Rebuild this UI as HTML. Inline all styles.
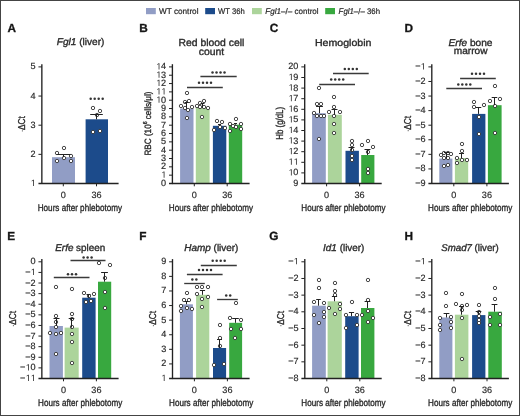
<!DOCTYPE html><html><head><meta charset="utf-8"><style>html,body{margin:0;padding:0;background:#fff;overflow:hidden}svg{display:block;will-change:transform;text-rendering:geometricPrecision}text{stroke:#2b2b2b;stroke-width:0.35px}text.n{stroke:#2b2b2b;stroke-width:0.18px}</style></head><body>
<svg width="520" height="416" viewBox="0 0 520 416" font-family='"Liberation Sans", sans-serif'>
<rect x="0" y="0" width="520" height="416" fill="#fff"/>
<rect x="146.00" y="8.00" width="9.80" height="6.20" fill="#919dc5"/>
<text x="159" y="13.8" font-size="8.2" fill="#222" text-anchor="start" textLength="39.5" lengthAdjust="spacingAndGlyphs" class="n"><tspan>WT control</tspan></text>
<rect x="205.20" y="8.00" width="9.80" height="6.20" fill="#1c4b8b"/>
<text x="218" y="13.8" font-size="8.2" fill="#222" text-anchor="start" textLength="26.8" lengthAdjust="spacingAndGlyphs" class="n"><tspan>WT 36h</tspan></text>
<rect x="252.00" y="8.00" width="9.80" height="6.20" fill="#acd49b"/>
<text x="265.3" y="13.8" font-size="8.2" fill="#222" text-anchor="start" textLength="53.3" lengthAdjust="spacingAndGlyphs" class="n"><tspan font-style="italic">Fgl1</tspan><tspan>–/– control</tspan></text>
<rect x="325.20" y="8.00" width="9.80" height="6.20" fill="#38a83f"/>
<text x="338.6" y="13.8" font-size="8.2" fill="#222" text-anchor="start" textLength="41.4" lengthAdjust="spacingAndGlyphs" class="n"><tspan font-style="italic">Fgl1</tspan><tspan>–/– 36h</tspan></text>
<text x="7.50" y="32.40" font-size="11.8" text-anchor="start" fill="#111" font-weight="bold">A</text>
<text x="139.30" y="32.40" font-size="11.8" text-anchor="start" fill="#111" font-weight="bold">B</text>
<text x="269.70" y="32.40" font-size="11.8" text-anchor="start" fill="#111" font-weight="bold">C</text>
<text x="404.40" y="32.40" font-size="11.8" text-anchor="start" fill="#111" font-weight="bold">D</text>
<text x="7.30" y="240.00" font-size="11.8" text-anchor="start" fill="#111" font-weight="bold">E</text>
<text x="139.20" y="240.00" font-size="11.8" text-anchor="start" fill="#111" font-weight="bold">F</text>
<text x="269.30" y="240.00" font-size="11.8" text-anchor="start" fill="#111" font-weight="bold">G</text>
<text x="404.50" y="240.00" font-size="11.8" text-anchor="start" fill="#111" font-weight="bold">H</text>
<rect x="52.00" y="157.20" width="23.00" height="26.30" fill="#919dc5"/>
<rect x="85.60" y="119.30" width="22.40" height="64.20" fill="#1c4b8b"/>
<circle cx="64" cy="148" r="1.7" fill="#fff" stroke="#303030" stroke-width="0.88"/>
<circle cx="57" cy="153" r="1.7" fill="#fff" stroke="#303030" stroke-width="0.88"/>
<circle cx="71" cy="156" r="1.7" fill="#fff" stroke="#303030" stroke-width="0.88"/>
<circle cx="64" cy="158" r="1.7" fill="#fff" stroke="#303030" stroke-width="0.88"/>
<circle cx="57" cy="161" r="1.7" fill="#fff" stroke="#303030" stroke-width="0.88"/>
<circle cx="71" cy="161" r="1.7" fill="#fff" stroke="#303030" stroke-width="0.88"/>
<circle cx="93" cy="108" r="1.7" fill="#fff" stroke="#303030" stroke-width="0.88"/>
<circle cx="100" cy="111" r="1.7" fill="#fff" stroke="#303030" stroke-width="0.88"/>
<circle cx="97" cy="115" r="1.7" fill="#fff" stroke="#303030" stroke-width="0.88"/>
<circle cx="93" cy="132" r="1.7" fill="#fff" stroke="#303030" stroke-width="0.88"/>
<circle cx="100" cy="131" r="1.7" fill="#fff" stroke="#303030" stroke-width="0.88"/>
<line x1="63.50" y1="157.20" x2="63.50" y2="154.50" stroke="#222" stroke-width="1.0"/>
<line x1="56.50" y1="154.50" x2="70.50" y2="154.50" stroke="#222" stroke-width="1.0"/>
<line x1="96.50" y1="119.30" x2="96.50" y2="114.50" stroke="#222" stroke-width="1.0"/>
<line x1="90.20" y1="114.50" x2="102.80" y2="114.50" stroke="#222" stroke-width="1.0"/>
<line x1="41.85" y1="64.20" x2="41.85" y2="184.10" stroke="#222" stroke-width="1.35"/>
<line x1="38.45" y1="183.50" x2="118.60" y2="183.50" stroke="#222" stroke-width="1.35"/>
<text x="35.55" y="186.00" font-size="9.1" text-anchor="end" fill="#2b2b2b" class="n"> </text>
<path d="M595,0H776V1409H610L277,1180V1010L595,1237Z" fill="#2b2b2b" transform="translate(30.49,186.00) scale(0.00444,-0.00444)"/>
<line x1="38.45" y1="154.35" x2="41.85" y2="154.35" stroke="#222" stroke-width="1.0"/>
<text x="35.55" y="156.85" font-size="9.1" text-anchor="end" fill="#2b2b2b" class="n">2</text>
<line x1="38.45" y1="125.20" x2="41.85" y2="125.20" stroke="#222" stroke-width="1.0"/>
<text x="35.55" y="127.70" font-size="9.1" text-anchor="end" fill="#2b2b2b" class="n">3</text>
<line x1="38.45" y1="96.05" x2="41.85" y2="96.05" stroke="#222" stroke-width="1.0"/>
<text x="35.55" y="98.55" font-size="9.1" text-anchor="end" fill="#2b2b2b" class="n">4</text>
<line x1="38.45" y1="66.90" x2="41.85" y2="66.90" stroke="#222" stroke-width="1.0"/>
<text x="35.55" y="69.40" font-size="9.1" text-anchor="end" fill="#2b2b2b" class="n">5</text>
<line x1="63.30" y1="183.50" x2="63.30" y2="186.30" stroke="#222" stroke-width="1.0"/>
<text x="63.30" y="197.60" font-size="9.1" text-anchor="middle" fill="#2b2b2b" class="n">0</text>
<line x1="96.50" y1="183.50" x2="96.50" y2="186.30" stroke="#222" stroke-width="1.0"/>
<text x="96.50" y="197.60" font-size="9.1" text-anchor="middle" fill="#2b2b2b" class="n">36</text>
<rect x="180.10" y="108.50" width="13.40" height="75.00" fill="#919dc5"/>
<rect x="195.80" y="107.70" width="13.80" height="75.80" fill="#acd49b"/>
<rect x="212.90" y="125.80" width="13.40" height="57.70" fill="#1c4b8b"/>
<rect x="228.80" y="124.70" width="13.40" height="58.80" fill="#38a83f"/>
<circle cx="187" cy="93" r="1.7" fill="#fff" stroke="#303030" stroke-width="0.88"/>
<circle cx="185" cy="102" r="1.7" fill="#fff" stroke="#303030" stroke-width="0.88"/>
<circle cx="189" cy="101" r="1.7" fill="#fff" stroke="#303030" stroke-width="0.88"/>
<circle cx="181" cy="106" r="1.7" fill="#fff" stroke="#303030" stroke-width="0.88"/>
<circle cx="192" cy="107" r="1.7" fill="#fff" stroke="#303030" stroke-width="0.88"/>
<circle cx="185" cy="108" r="1.7" fill="#fff" stroke="#303030" stroke-width="0.88"/>
<circle cx="188" cy="110" r="1.7" fill="#fff" stroke="#303030" stroke-width="0.88"/>
<circle cx="187" cy="118" r="1.7" fill="#fff" stroke="#303030" stroke-width="0.88"/>
<circle cx="204" cy="101" r="1.7" fill="#fff" stroke="#303030" stroke-width="0.88"/>
<circle cx="200" cy="103" r="1.7" fill="#fff" stroke="#303030" stroke-width="0.88"/>
<circle cx="197" cy="106" r="1.7" fill="#fff" stroke="#303030" stroke-width="0.88"/>
<circle cx="200" cy="107" r="1.7" fill="#fff" stroke="#303030" stroke-width="0.88"/>
<circle cx="204" cy="107" r="1.7" fill="#fff" stroke="#303030" stroke-width="0.88"/>
<circle cx="208" cy="108" r="1.7" fill="#fff" stroke="#303030" stroke-width="0.88"/>
<circle cx="202" cy="117" r="1.7" fill="#fff" stroke="#303030" stroke-width="0.88"/>
<circle cx="217" cy="121" r="1.7" fill="#fff" stroke="#303030" stroke-width="0.88"/>
<circle cx="222" cy="122" r="1.7" fill="#fff" stroke="#303030" stroke-width="0.88"/>
<circle cx="220" cy="127" r="1.7" fill="#fff" stroke="#303030" stroke-width="0.88"/>
<circle cx="225" cy="128" r="1.7" fill="#fff" stroke="#303030" stroke-width="0.88"/>
<circle cx="214" cy="130" r="1.7" fill="#fff" stroke="#303030" stroke-width="0.88"/>
<circle cx="236" cy="119" r="1.7" fill="#fff" stroke="#303030" stroke-width="0.88"/>
<circle cx="230" cy="124" r="1.7" fill="#fff" stroke="#303030" stroke-width="0.88"/>
<circle cx="233" cy="126" r="1.7" fill="#fff" stroke="#303030" stroke-width="0.88"/>
<circle cx="236" cy="127" r="1.7" fill="#fff" stroke="#303030" stroke-width="0.88"/>
<circle cx="241" cy="124" r="1.7" fill="#fff" stroke="#303030" stroke-width="0.88"/>
<circle cx="241" cy="129" r="1.7" fill="#fff" stroke="#303030" stroke-width="0.88"/>
<circle cx="230" cy="131" r="1.7" fill="#fff" stroke="#303030" stroke-width="0.88"/>
<line x1="186.50" y1="108.50" x2="186.50" y2="102.50" stroke="#222" stroke-width="1.0"/>
<line x1="184.50" y1="102.50" x2="188.50" y2="102.50" stroke="#222" stroke-width="1.0"/>
<line x1="202.50" y1="107.70" x2="202.50" y2="103.50" stroke="#222" stroke-width="1.0"/>
<line x1="200.50" y1="103.50" x2="204.50" y2="103.50" stroke="#222" stroke-width="1.0"/>
<line x1="219.50" y1="125.80" x2="219.50" y2="124.50" stroke="#222" stroke-width="1.0"/>
<line x1="218.00" y1="124.50" x2="221.00" y2="124.50" stroke="#222" stroke-width="1.0"/>
<line x1="235.50" y1="124.70" x2="235.50" y2="123.50" stroke="#222" stroke-width="1.0"/>
<line x1="234.00" y1="123.50" x2="237.00" y2="123.50" stroke="#222" stroke-width="1.0"/>
<line x1="172.40" y1="64.20" x2="172.40" y2="184.10" stroke="#222" stroke-width="1.35"/>
<line x1="169.00" y1="183.50" x2="249.60" y2="183.50" stroke="#222" stroke-width="1.35"/>
<text x="166.10" y="186.00" font-size="9.1" text-anchor="end" fill="#2b2b2b" class="n">0</text>
<line x1="169.00" y1="175.17" x2="172.40" y2="175.17" stroke="#222" stroke-width="1.0"/>
<text x="166.10" y="177.67" font-size="9.1" text-anchor="end" fill="#2b2b2b" class="n"> </text>
<path d="M595,0H776V1409H610L277,1180V1010L595,1237Z" fill="#2b2b2b" transform="translate(161.04,177.67) scale(0.00444,-0.00444)"/>
<line x1="169.00" y1="166.84" x2="172.40" y2="166.84" stroke="#222" stroke-width="1.0"/>
<text x="166.10" y="169.34" font-size="9.1" text-anchor="end" fill="#2b2b2b" class="n">2</text>
<line x1="169.00" y1="158.51" x2="172.40" y2="158.51" stroke="#222" stroke-width="1.0"/>
<text x="166.10" y="161.01" font-size="9.1" text-anchor="end" fill="#2b2b2b" class="n">3</text>
<line x1="169.00" y1="150.19" x2="172.40" y2="150.19" stroke="#222" stroke-width="1.0"/>
<text x="166.10" y="152.69" font-size="9.1" text-anchor="end" fill="#2b2b2b" class="n">4</text>
<line x1="169.00" y1="141.86" x2="172.40" y2="141.86" stroke="#222" stroke-width="1.0"/>
<text x="166.10" y="144.36" font-size="9.1" text-anchor="end" fill="#2b2b2b" class="n">5</text>
<line x1="169.00" y1="133.53" x2="172.40" y2="133.53" stroke="#222" stroke-width="1.0"/>
<text x="166.10" y="136.03" font-size="9.1" text-anchor="end" fill="#2b2b2b" class="n">6</text>
<line x1="169.00" y1="125.20" x2="172.40" y2="125.20" stroke="#222" stroke-width="1.0"/>
<text x="166.10" y="127.70" font-size="9.1" text-anchor="end" fill="#2b2b2b" class="n">7</text>
<line x1="169.00" y1="116.87" x2="172.40" y2="116.87" stroke="#222" stroke-width="1.0"/>
<text x="166.10" y="119.37" font-size="9.1" text-anchor="end" fill="#2b2b2b" class="n">8</text>
<line x1="169.00" y1="108.54" x2="172.40" y2="108.54" stroke="#222" stroke-width="1.0"/>
<text x="166.10" y="111.04" font-size="9.1" text-anchor="end" fill="#2b2b2b" class="n">9</text>
<line x1="169.00" y1="100.21" x2="172.40" y2="100.21" stroke="#222" stroke-width="1.0"/>
<text x="166.10" y="102.71" font-size="9.1" text-anchor="end" fill="#2b2b2b" class="n"> 0</text>
<path d="M595,0H776V1409H610L277,1180V1010L595,1237Z" fill="#2b2b2b" transform="translate(155.98,102.71) scale(0.00444,-0.00444)"/>
<line x1="169.00" y1="91.89" x2="172.40" y2="91.89" stroke="#222" stroke-width="1.0"/>
<text x="166.10" y="94.39" font-size="9.1" text-anchor="end" fill="#2b2b2b" class="n">  </text>
<path d="M595,0H776V1409H610L277,1180V1010L595,1237Z" fill="#2b2b2b" transform="translate(155.98,94.39) scale(0.00444,-0.00444)"/>
<path d="M595,0H776V1409H610L277,1180V1010L595,1237Z" fill="#2b2b2b" transform="translate(161.04,94.39) scale(0.00444,-0.00444)"/>
<line x1="169.00" y1="83.56" x2="172.40" y2="83.56" stroke="#222" stroke-width="1.0"/>
<text x="166.10" y="86.06" font-size="9.1" text-anchor="end" fill="#2b2b2b" class="n"> 2</text>
<path d="M595,0H776V1409H610L277,1180V1010L595,1237Z" fill="#2b2b2b" transform="translate(155.98,86.06) scale(0.00444,-0.00444)"/>
<line x1="169.00" y1="75.23" x2="172.40" y2="75.23" stroke="#222" stroke-width="1.0"/>
<text x="166.10" y="77.73" font-size="9.1" text-anchor="end" fill="#2b2b2b" class="n"> 3</text>
<path d="M595,0H776V1409H610L277,1180V1010L595,1237Z" fill="#2b2b2b" transform="translate(155.98,77.73) scale(0.00444,-0.00444)"/>
<line x1="169.00" y1="66.90" x2="172.40" y2="66.90" stroke="#222" stroke-width="1.0"/>
<text x="166.10" y="69.40" font-size="9.1" text-anchor="end" fill="#2b2b2b" class="n"> 4</text>
<path d="M595,0H776V1409H610L277,1180V1010L595,1237Z" fill="#2b2b2b" transform="translate(155.98,69.40) scale(0.00444,-0.00444)"/>
<line x1="194.30" y1="183.50" x2="194.30" y2="186.30" stroke="#222" stroke-width="1.0"/>
<text x="194.30" y="197.60" font-size="9.1" text-anchor="middle" fill="#2b2b2b" class="n">0</text>
<line x1="227.20" y1="183.50" x2="227.20" y2="186.30" stroke="#222" stroke-width="1.0"/>
<text x="227.20" y="197.60" font-size="9.1" text-anchor="middle" fill="#2b2b2b" class="n">36</text>
<line x1="187.00" y1="87.50" x2="222.80" y2="87.50" stroke="#3a3a3a" stroke-width="1.35"/>
<circle cx="199.00" cy="82.7" r="1.25" fill="#333"/>
<circle cx="203.00" cy="82.7" r="1.25" fill="#333"/>
<circle cx="207.00" cy="82.7" r="1.25" fill="#333"/>
<circle cx="211.00" cy="82.7" r="1.25" fill="#333"/>
<line x1="200.40" y1="76.50" x2="236.70" y2="76.50" stroke="#3a3a3a" stroke-width="1.35"/>
<circle cx="212.50" cy="72.5" r="1.25" fill="#333"/>
<circle cx="216.50" cy="72.5" r="1.25" fill="#333"/>
<circle cx="220.50" cy="72.5" r="1.25" fill="#333"/>
<circle cx="224.50" cy="72.5" r="1.25" fill="#333"/>
<rect x="312.10" y="113.20" width="13.70" height="70.30" fill="#919dc5"/>
<rect x="327.90" y="114.80" width="13.90" height="68.70" fill="#acd49b"/>
<rect x="345.50" y="150.80" width="13.40" height="32.70" fill="#1c4b8b"/>
<rect x="361.20" y="155.00" width="13.20" height="28.50" fill="#38a83f"/>
<circle cx="319" cy="88" r="1.7" fill="#fff" stroke="#303030" stroke-width="0.88"/>
<circle cx="317" cy="104" r="1.7" fill="#fff" stroke="#303030" stroke-width="0.88"/>
<circle cx="321" cy="104" r="1.7" fill="#fff" stroke="#303030" stroke-width="0.88"/>
<circle cx="314" cy="113" r="1.7" fill="#fff" stroke="#303030" stroke-width="0.88"/>
<circle cx="317" cy="116" r="1.7" fill="#fff" stroke="#303030" stroke-width="0.88"/>
<circle cx="321" cy="116" r="1.7" fill="#fff" stroke="#303030" stroke-width="0.88"/>
<circle cx="324" cy="116" r="1.7" fill="#fff" stroke="#303030" stroke-width="0.88"/>
<circle cx="319" cy="139" r="1.7" fill="#fff" stroke="#303030" stroke-width="0.88"/>
<circle cx="334" cy="97" r="1.7" fill="#fff" stroke="#303030" stroke-width="0.88"/>
<circle cx="334" cy="107" r="1.7" fill="#fff" stroke="#303030" stroke-width="0.88"/>
<circle cx="329" cy="112" r="1.7" fill="#fff" stroke="#303030" stroke-width="0.88"/>
<circle cx="340" cy="112" r="1.7" fill="#fff" stroke="#303030" stroke-width="0.88"/>
<circle cx="334" cy="116" r="1.7" fill="#fff" stroke="#303030" stroke-width="0.88"/>
<circle cx="334" cy="124" r="1.7" fill="#fff" stroke="#303030" stroke-width="0.88"/>
<circle cx="334" cy="133" r="1.7" fill="#fff" stroke="#303030" stroke-width="0.88"/>
<circle cx="352" cy="141" r="1.7" fill="#fff" stroke="#303030" stroke-width="0.88"/>
<circle cx="352" cy="145" r="1.7" fill="#fff" stroke="#303030" stroke-width="0.88"/>
<circle cx="352" cy="150" r="1.7" fill="#fff" stroke="#303030" stroke-width="0.88"/>
<circle cx="352" cy="156" r="1.7" fill="#fff" stroke="#303030" stroke-width="0.88"/>
<circle cx="352" cy="160" r="1.7" fill="#fff" stroke="#303030" stroke-width="0.88"/>
<circle cx="368" cy="141" r="1.7" fill="#fff" stroke="#303030" stroke-width="0.88"/>
<circle cx="362" cy="145" r="1.7" fill="#fff" stroke="#303030" stroke-width="0.88"/>
<circle cx="373" cy="147" r="1.7" fill="#fff" stroke="#303030" stroke-width="0.88"/>
<circle cx="368" cy="152" r="1.7" fill="#fff" stroke="#303030" stroke-width="0.88"/>
<circle cx="368" cy="169" r="1.7" fill="#fff" stroke="#303030" stroke-width="0.88"/>
<circle cx="368" cy="173" r="1.7" fill="#fff" stroke="#303030" stroke-width="0.88"/>
<line x1="319.50" y1="113.20" x2="319.50" y2="106.50" stroke="#222" stroke-width="1.0"/>
<line x1="316.10" y1="106.50" x2="322.90" y2="106.50" stroke="#222" stroke-width="1.0"/>
<line x1="334.50" y1="114.80" x2="334.50" y2="109.50" stroke="#222" stroke-width="1.0"/>
<line x1="331.50" y1="109.50" x2="337.50" y2="109.50" stroke="#222" stroke-width="1.0"/>
<line x1="351.50" y1="150.80" x2="351.50" y2="147.50" stroke="#222" stroke-width="1.0"/>
<line x1="348.50" y1="147.50" x2="354.50" y2="147.50" stroke="#222" stroke-width="1.0"/>
<line x1="367.50" y1="155.00" x2="367.50" y2="149.50" stroke="#222" stroke-width="1.0"/>
<line x1="364.50" y1="149.50" x2="370.50" y2="149.50" stroke="#222" stroke-width="1.0"/>
<line x1="304.70" y1="64.20" x2="304.70" y2="184.10" stroke="#222" stroke-width="1.35"/>
<line x1="301.30" y1="183.50" x2="381.70" y2="183.50" stroke="#222" stroke-width="1.35"/>
<text x="298.40" y="186.00" font-size="9.1" text-anchor="end" fill="#2b2b2b" class="n">9</text>
<line x1="301.30" y1="172.90" x2="304.70" y2="172.90" stroke="#222" stroke-width="1.0"/>
<text x="298.40" y="175.40" font-size="9.1" text-anchor="end" fill="#2b2b2b" class="n"> 0</text>
<path d="M595,0H776V1409H610L277,1180V1010L595,1237Z" fill="#2b2b2b" transform="translate(288.28,175.40) scale(0.00444,-0.00444)"/>
<line x1="301.30" y1="162.30" x2="304.70" y2="162.30" stroke="#222" stroke-width="1.0"/>
<text x="298.40" y="164.80" font-size="9.1" text-anchor="end" fill="#2b2b2b" class="n">  </text>
<path d="M595,0H776V1409H610L277,1180V1010L595,1237Z" fill="#2b2b2b" transform="translate(288.28,164.80) scale(0.00444,-0.00444)"/>
<path d="M595,0H776V1409H610L277,1180V1010L595,1237Z" fill="#2b2b2b" transform="translate(293.34,164.80) scale(0.00444,-0.00444)"/>
<line x1="301.30" y1="151.70" x2="304.70" y2="151.70" stroke="#222" stroke-width="1.0"/>
<text x="298.40" y="154.20" font-size="9.1" text-anchor="end" fill="#2b2b2b" class="n"> 2</text>
<path d="M595,0H776V1409H610L277,1180V1010L595,1237Z" fill="#2b2b2b" transform="translate(288.28,154.20) scale(0.00444,-0.00444)"/>
<line x1="301.30" y1="141.10" x2="304.70" y2="141.10" stroke="#222" stroke-width="1.0"/>
<text x="298.40" y="143.60" font-size="9.1" text-anchor="end" fill="#2b2b2b" class="n"> 3</text>
<path d="M595,0H776V1409H610L277,1180V1010L595,1237Z" fill="#2b2b2b" transform="translate(288.28,143.60) scale(0.00444,-0.00444)"/>
<line x1="301.30" y1="130.50" x2="304.70" y2="130.50" stroke="#222" stroke-width="1.0"/>
<text x="298.40" y="133.00" font-size="9.1" text-anchor="end" fill="#2b2b2b" class="n"> 4</text>
<path d="M595,0H776V1409H610L277,1180V1010L595,1237Z" fill="#2b2b2b" transform="translate(288.28,133.00) scale(0.00444,-0.00444)"/>
<line x1="301.30" y1="119.90" x2="304.70" y2="119.90" stroke="#222" stroke-width="1.0"/>
<text x="298.40" y="122.40" font-size="9.1" text-anchor="end" fill="#2b2b2b" class="n"> 5</text>
<path d="M595,0H776V1409H610L277,1180V1010L595,1237Z" fill="#2b2b2b" transform="translate(288.28,122.40) scale(0.00444,-0.00444)"/>
<line x1="301.30" y1="109.30" x2="304.70" y2="109.30" stroke="#222" stroke-width="1.0"/>
<text x="298.40" y="111.80" font-size="9.1" text-anchor="end" fill="#2b2b2b" class="n"> 6</text>
<path d="M595,0H776V1409H610L277,1180V1010L595,1237Z" fill="#2b2b2b" transform="translate(288.28,111.80) scale(0.00444,-0.00444)"/>
<line x1="301.30" y1="98.70" x2="304.70" y2="98.70" stroke="#222" stroke-width="1.0"/>
<text x="298.40" y="101.20" font-size="9.1" text-anchor="end" fill="#2b2b2b" class="n"> 7</text>
<path d="M595,0H776V1409H610L277,1180V1010L595,1237Z" fill="#2b2b2b" transform="translate(288.28,101.20) scale(0.00444,-0.00444)"/>
<line x1="301.30" y1="88.10" x2="304.70" y2="88.10" stroke="#222" stroke-width="1.0"/>
<text x="298.40" y="90.60" font-size="9.1" text-anchor="end" fill="#2b2b2b" class="n"> 8</text>
<path d="M595,0H776V1409H610L277,1180V1010L595,1237Z" fill="#2b2b2b" transform="translate(288.28,90.60) scale(0.00444,-0.00444)"/>
<line x1="301.30" y1="77.50" x2="304.70" y2="77.50" stroke="#222" stroke-width="1.0"/>
<text x="298.40" y="80.00" font-size="9.1" text-anchor="end" fill="#2b2b2b" class="n"> 9</text>
<path d="M595,0H776V1409H610L277,1180V1010L595,1237Z" fill="#2b2b2b" transform="translate(288.28,80.00) scale(0.00444,-0.00444)"/>
<line x1="301.30" y1="66.90" x2="304.70" y2="66.90" stroke="#222" stroke-width="1.0"/>
<text x="298.40" y="69.40" font-size="9.1" text-anchor="end" fill="#2b2b2b" class="n">20</text>
<line x1="326.60" y1="183.50" x2="326.60" y2="186.30" stroke="#222" stroke-width="1.0"/>
<text x="326.60" y="197.60" font-size="9.1" text-anchor="middle" fill="#2b2b2b" class="n">0</text>
<line x1="359.60" y1="183.50" x2="359.60" y2="186.30" stroke="#222" stroke-width="1.0"/>
<text x="359.60" y="197.60" font-size="9.1" text-anchor="middle" fill="#2b2b2b" class="n">36</text>
<line x1="319.20" y1="84.50" x2="355.00" y2="84.50" stroke="#3a3a3a" stroke-width="1.35"/>
<circle cx="331.20" cy="79.6" r="1.25" fill="#333"/>
<circle cx="335.20" cy="79.6" r="1.25" fill="#333"/>
<circle cx="339.20" cy="79.6" r="1.25" fill="#333"/>
<circle cx="343.20" cy="79.6" r="1.25" fill="#333"/>
<line x1="333.00" y1="73.50" x2="368.70" y2="73.50" stroke="#3a3a3a" stroke-width="1.35"/>
<circle cx="344.80" cy="69.1" r="1.25" fill="#333"/>
<circle cx="348.80" cy="69.1" r="1.25" fill="#333"/>
<circle cx="352.80" cy="69.1" r="1.25" fill="#333"/>
<circle cx="356.80" cy="69.1" r="1.25" fill="#333"/>
<rect x="439.30" y="158.60" width="13.10" height="24.90" fill="#919dc5"/>
<rect x="454.90" y="158.00" width="13.30" height="25.50" fill="#acd49b"/>
<rect x="472.10" y="113.90" width="13.30" height="69.60" fill="#1c4b8b"/>
<rect x="487.90" y="105.20" width="13.70" height="78.30" fill="#38a83f"/>
<circle cx="444" cy="153" r="1.7" fill="#fff" stroke="#303030" stroke-width="0.88"/>
<circle cx="448" cy="153" r="1.7" fill="#fff" stroke="#303030" stroke-width="0.88"/>
<circle cx="441" cy="155" r="1.7" fill="#fff" stroke="#303030" stroke-width="0.88"/>
<circle cx="451" cy="154" r="1.7" fill="#fff" stroke="#303030" stroke-width="0.88"/>
<circle cx="444" cy="158" r="1.7" fill="#fff" stroke="#303030" stroke-width="0.88"/>
<circle cx="448" cy="158" r="1.7" fill="#fff" stroke="#303030" stroke-width="0.88"/>
<circle cx="448" cy="165" r="1.7" fill="#fff" stroke="#303030" stroke-width="0.88"/>
<circle cx="444" cy="166" r="1.7" fill="#fff" stroke="#303030" stroke-width="0.88"/>
<circle cx="462" cy="144" r="1.7" fill="#fff" stroke="#303030" stroke-width="0.88"/>
<circle cx="462" cy="151" r="1.7" fill="#fff" stroke="#303030" stroke-width="0.88"/>
<circle cx="457" cy="158" r="1.7" fill="#fff" stroke="#303030" stroke-width="0.88"/>
<circle cx="462" cy="160" r="1.7" fill="#fff" stroke="#303030" stroke-width="0.88"/>
<circle cx="467" cy="160" r="1.7" fill="#fff" stroke="#303030" stroke-width="0.88"/>
<circle cx="457" cy="163" r="1.7" fill="#fff" stroke="#303030" stroke-width="0.88"/>
<circle cx="474" cy="102" r="1.7" fill="#fff" stroke="#303030" stroke-width="0.88"/>
<circle cx="474" cy="107" r="1.7" fill="#fff" stroke="#303030" stroke-width="0.88"/>
<circle cx="484" cy="105" r="1.7" fill="#fff" stroke="#303030" stroke-width="0.88"/>
<circle cx="479" cy="117" r="1.7" fill="#fff" stroke="#303030" stroke-width="0.88"/>
<circle cx="479" cy="134" r="1.7" fill="#fff" stroke="#303030" stroke-width="0.88"/>
<circle cx="495" cy="86" r="1.7" fill="#fff" stroke="#303030" stroke-width="0.88"/>
<circle cx="490" cy="101" r="1.7" fill="#fff" stroke="#303030" stroke-width="0.88"/>
<circle cx="500" cy="99" r="1.7" fill="#fff" stroke="#303030" stroke-width="0.88"/>
<circle cx="495" cy="106" r="1.7" fill="#fff" stroke="#303030" stroke-width="0.88"/>
<circle cx="495" cy="133" r="1.7" fill="#fff" stroke="#303030" stroke-width="0.88"/>
<line x1="446.50" y1="158.60" x2="446.50" y2="152.50" stroke="#222" stroke-width="1.0"/>
<line x1="444.00" y1="152.50" x2="449.00" y2="152.50" stroke="#222" stroke-width="1.0"/>
<line x1="461.50" y1="158.00" x2="461.50" y2="153.50" stroke="#222" stroke-width="1.0"/>
<line x1="459.00" y1="153.50" x2="464.00" y2="153.50" stroke="#222" stroke-width="1.0"/>
<line x1="478.50" y1="113.90" x2="478.50" y2="107.50" stroke="#222" stroke-width="1.0"/>
<line x1="475.70" y1="107.50" x2="481.30" y2="107.50" stroke="#222" stroke-width="1.0"/>
<line x1="494.50" y1="105.20" x2="494.50" y2="97.50" stroke="#222" stroke-width="1.0"/>
<line x1="491.70" y1="97.50" x2="497.30" y2="97.50" stroke="#222" stroke-width="1.0"/>
<line x1="431.80" y1="64.20" x2="431.80" y2="184.10" stroke="#222" stroke-width="1.35"/>
<line x1="428.40" y1="183.50" x2="508.90" y2="183.50" stroke="#222" stroke-width="1.35"/>
<text x="425.50" y="186.00" font-size="9.1" text-anchor="end" fill="#2b2b2b" class="n">−9</text>
<line x1="428.40" y1="168.93" x2="431.80" y2="168.93" stroke="#222" stroke-width="1.0"/>
<text x="425.50" y="171.43" font-size="9.1" text-anchor="end" fill="#2b2b2b" class="n">−8</text>
<line x1="428.40" y1="154.35" x2="431.80" y2="154.35" stroke="#222" stroke-width="1.0"/>
<text x="425.50" y="156.85" font-size="9.1" text-anchor="end" fill="#2b2b2b" class="n">−7</text>
<line x1="428.40" y1="139.78" x2="431.80" y2="139.78" stroke="#222" stroke-width="1.0"/>
<text x="425.50" y="142.28" font-size="9.1" text-anchor="end" fill="#2b2b2b" class="n">−6</text>
<line x1="428.40" y1="125.20" x2="431.80" y2="125.20" stroke="#222" stroke-width="1.0"/>
<text x="425.50" y="127.70" font-size="9.1" text-anchor="end" fill="#2b2b2b" class="n">−5</text>
<line x1="428.40" y1="110.62" x2="431.80" y2="110.62" stroke="#222" stroke-width="1.0"/>
<text x="425.50" y="113.12" font-size="9.1" text-anchor="end" fill="#2b2b2b" class="n">−4</text>
<line x1="428.40" y1="96.05" x2="431.80" y2="96.05" stroke="#222" stroke-width="1.0"/>
<text x="425.50" y="98.55" font-size="9.1" text-anchor="end" fill="#2b2b2b" class="n">−3</text>
<line x1="428.40" y1="81.48" x2="431.80" y2="81.48" stroke="#222" stroke-width="1.0"/>
<text x="425.50" y="83.98" font-size="9.1" text-anchor="end" fill="#2b2b2b" class="n">−2</text>
<line x1="428.40" y1="66.90" x2="431.80" y2="66.90" stroke="#222" stroke-width="1.0"/>
<text x="425.50" y="69.40" font-size="9.1" text-anchor="end" fill="#2b2b2b" class="n">− </text>
<path d="M595,0H776V1409H610L277,1180V1010L595,1237Z" fill="#2b2b2b" transform="translate(420.44,69.40) scale(0.00444,-0.00444)"/>
<line x1="453.80" y1="183.50" x2="453.80" y2="186.30" stroke="#222" stroke-width="1.0"/>
<text x="453.80" y="197.60" font-size="9.1" text-anchor="middle" fill="#2b2b2b" class="n">0</text>
<line x1="486.90" y1="183.50" x2="486.90" y2="186.30" stroke="#222" stroke-width="1.0"/>
<text x="486.90" y="197.60" font-size="9.1" text-anchor="middle" fill="#2b2b2b" class="n">36</text>
<line x1="446.30" y1="88.50" x2="482.00" y2="88.50" stroke="#3a3a3a" stroke-width="1.35"/>
<circle cx="458.30" cy="84.5" r="1.25" fill="#333"/>
<circle cx="462.30" cy="84.5" r="1.25" fill="#333"/>
<circle cx="466.30" cy="84.5" r="1.25" fill="#333"/>
<circle cx="470.30" cy="84.5" r="1.25" fill="#333"/>
<line x1="460.10" y1="78.50" x2="495.80" y2="78.50" stroke="#3a3a3a" stroke-width="1.35"/>
<circle cx="472.00" cy="73.8" r="1.25" fill="#333"/>
<circle cx="476.00" cy="73.8" r="1.25" fill="#333"/>
<circle cx="480.00" cy="73.8" r="1.25" fill="#333"/>
<circle cx="484.00" cy="73.8" r="1.25" fill="#333"/>
<rect x="49.50" y="326.00" width="13.40" height="52.50" fill="#919dc5"/>
<rect x="64.60" y="327.60" width="14.10" height="50.90" fill="#acd49b"/>
<rect x="82.20" y="297.70" width="13.40" height="80.80" fill="#1c4b8b"/>
<rect x="98.00" y="281.70" width="13.20" height="96.80" fill="#38a83f"/>
<circle cx="56" cy="287" r="1.7" fill="#fff" stroke="#303030" stroke-width="0.88"/>
<circle cx="56" cy="316" r="1.7" fill="#fff" stroke="#303030" stroke-width="0.88"/>
<circle cx="56" cy="322" r="1.7" fill="#fff" stroke="#303030" stroke-width="0.88"/>
<circle cx="56" cy="327" r="1.7" fill="#fff" stroke="#303030" stroke-width="0.88"/>
<circle cx="50" cy="333" r="1.7" fill="#fff" stroke="#303030" stroke-width="0.88"/>
<circle cx="56" cy="334" r="1.7" fill="#fff" stroke="#303030" stroke-width="0.88"/>
<circle cx="61" cy="333" r="1.7" fill="#fff" stroke="#303030" stroke-width="0.88"/>
<circle cx="56" cy="354" r="1.7" fill="#fff" stroke="#303030" stroke-width="0.88"/>
<circle cx="72" cy="289" r="1.7" fill="#fff" stroke="#303030" stroke-width="0.88"/>
<circle cx="72" cy="314" r="1.7" fill="#fff" stroke="#303030" stroke-width="0.88"/>
<circle cx="72" cy="319" r="1.7" fill="#fff" stroke="#303030" stroke-width="0.88"/>
<circle cx="72" cy="327" r="1.7" fill="#fff" stroke="#303030" stroke-width="0.88"/>
<circle cx="72" cy="334" r="1.7" fill="#fff" stroke="#303030" stroke-width="0.88"/>
<circle cx="72" cy="342" r="1.7" fill="#fff" stroke="#303030" stroke-width="0.88"/>
<circle cx="72" cy="363" r="1.7" fill="#fff" stroke="#303030" stroke-width="0.88"/>
<circle cx="84" cy="293" r="1.7" fill="#fff" stroke="#303030" stroke-width="0.88"/>
<circle cx="89" cy="296" r="1.7" fill="#fff" stroke="#303030" stroke-width="0.88"/>
<circle cx="94" cy="294" r="1.7" fill="#fff" stroke="#303030" stroke-width="0.88"/>
<circle cx="86" cy="302" r="1.7" fill="#fff" stroke="#303030" stroke-width="0.88"/>
<circle cx="91" cy="301" r="1.7" fill="#fff" stroke="#303030" stroke-width="0.88"/>
<circle cx="99" cy="263" r="1.7" fill="#fff" stroke="#303030" stroke-width="0.88"/>
<circle cx="110" cy="265" r="1.7" fill="#fff" stroke="#303030" stroke-width="0.88"/>
<circle cx="105" cy="278" r="1.7" fill="#fff" stroke="#303030" stroke-width="0.88"/>
<circle cx="105" cy="292" r="1.7" fill="#fff" stroke="#303030" stroke-width="0.88"/>
<circle cx="105" cy="308" r="1.7" fill="#fff" stroke="#303030" stroke-width="0.88"/>
<line x1="56.50" y1="326.00" x2="56.50" y2="318.50" stroke="#222" stroke-width="1.0"/>
<line x1="53.50" y1="318.50" x2="59.50" y2="318.50" stroke="#222" stroke-width="1.0"/>
<line x1="71.50" y1="327.60" x2="71.50" y2="318.50" stroke="#222" stroke-width="1.0"/>
<line x1="68.70" y1="318.50" x2="74.30" y2="318.50" stroke="#222" stroke-width="1.0"/>
<line x1="88.50" y1="297.70" x2="88.50" y2="294.50" stroke="#222" stroke-width="1.0"/>
<line x1="86.50" y1="294.50" x2="90.50" y2="294.50" stroke="#222" stroke-width="1.0"/>
<line x1="104.50" y1="281.70" x2="104.50" y2="272.50" stroke="#222" stroke-width="1.0"/>
<line x1="101.10" y1="272.50" x2="107.90" y2="272.50" stroke="#222" stroke-width="1.0"/>
<line x1="41.85" y1="259.10" x2="41.85" y2="379.10" stroke="#222" stroke-width="1.35"/>
<line x1="38.45" y1="378.50" x2="118.60" y2="378.50" stroke="#222" stroke-width="1.35"/>
<text x="35.55" y="381.00" font-size="9.1" text-anchor="end" fill="#2b2b2b" class="n">−  </text>
<path d="M595,0H776V1409H610L277,1180V1010L595,1237Z" fill="#2b2b2b" transform="translate(25.43,381.00) scale(0.00444,-0.00444)"/>
<path d="M595,0H776V1409H610L277,1180V1010L595,1237Z" fill="#2b2b2b" transform="translate(30.49,381.00) scale(0.00444,-0.00444)"/>
<line x1="38.45" y1="367.89" x2="41.85" y2="367.89" stroke="#222" stroke-width="1.0"/>
<text x="35.55" y="370.39" font-size="9.1" text-anchor="end" fill="#2b2b2b" class="n">− 0</text>
<path d="M595,0H776V1409H610L277,1180V1010L595,1237Z" fill="#2b2b2b" transform="translate(25.43,370.39) scale(0.00444,-0.00444)"/>
<line x1="38.45" y1="357.28" x2="41.85" y2="357.28" stroke="#222" stroke-width="1.0"/>
<text x="35.55" y="359.78" font-size="9.1" text-anchor="end" fill="#2b2b2b" class="n">−9</text>
<line x1="38.45" y1="346.67" x2="41.85" y2="346.67" stroke="#222" stroke-width="1.0"/>
<text x="35.55" y="349.17" font-size="9.1" text-anchor="end" fill="#2b2b2b" class="n">−8</text>
<line x1="38.45" y1="336.06" x2="41.85" y2="336.06" stroke="#222" stroke-width="1.0"/>
<text x="35.55" y="338.56" font-size="9.1" text-anchor="end" fill="#2b2b2b" class="n">−7</text>
<line x1="38.45" y1="325.45" x2="41.85" y2="325.45" stroke="#222" stroke-width="1.0"/>
<text x="35.55" y="327.95" font-size="9.1" text-anchor="end" fill="#2b2b2b" class="n">−6</text>
<line x1="38.45" y1="314.85" x2="41.85" y2="314.85" stroke="#222" stroke-width="1.0"/>
<text x="35.55" y="317.35" font-size="9.1" text-anchor="end" fill="#2b2b2b" class="n">−5</text>
<line x1="38.45" y1="304.24" x2="41.85" y2="304.24" stroke="#222" stroke-width="1.0"/>
<text x="35.55" y="306.74" font-size="9.1" text-anchor="end" fill="#2b2b2b" class="n">−4</text>
<line x1="38.45" y1="293.63" x2="41.85" y2="293.63" stroke="#222" stroke-width="1.0"/>
<text x="35.55" y="296.13" font-size="9.1" text-anchor="end" fill="#2b2b2b" class="n">−3</text>
<line x1="38.45" y1="283.02" x2="41.85" y2="283.02" stroke="#222" stroke-width="1.0"/>
<text x="35.55" y="285.52" font-size="9.1" text-anchor="end" fill="#2b2b2b" class="n">−2</text>
<line x1="38.45" y1="272.41" x2="41.85" y2="272.41" stroke="#222" stroke-width="1.0"/>
<text x="35.55" y="274.91" font-size="9.1" text-anchor="end" fill="#2b2b2b" class="n">− </text>
<path d="M595,0H776V1409H610L277,1180V1010L595,1237Z" fill="#2b2b2b" transform="translate(30.49,274.91) scale(0.00444,-0.00444)"/>
<line x1="38.45" y1="261.80" x2="41.85" y2="261.80" stroke="#222" stroke-width="1.0"/>
<text x="35.55" y="264.30" font-size="9.1" text-anchor="end" fill="#2b2b2b" class="n">0</text>
<line x1="63.50" y1="378.50" x2="63.50" y2="381.30" stroke="#222" stroke-width="1.0"/>
<text x="63.50" y="392.60" font-size="9.1" text-anchor="middle" fill="#2b2b2b" class="n">0</text>
<line x1="96.40" y1="378.50" x2="96.40" y2="381.30" stroke="#222" stroke-width="1.0"/>
<text x="96.40" y="392.60" font-size="9.1" text-anchor="middle" fill="#2b2b2b" class="n">36</text>
<line x1="53.80" y1="277.50" x2="89.50" y2="277.50" stroke="#3a3a3a" stroke-width="1.35"/>
<circle cx="68.00" cy="274.2" r="1.25" fill="#333"/>
<circle cx="72.00" cy="274.2" r="1.25" fill="#333"/>
<circle cx="76.00" cy="274.2" r="1.25" fill="#333"/>
<line x1="70.50" y1="260.50" x2="105.50" y2="260.50" stroke="#3a3a3a" stroke-width="1.35"/>
<circle cx="83.60" cy="257.4" r="1.25" fill="#333"/>
<circle cx="87.60" cy="257.4" r="1.25" fill="#333"/>
<circle cx="91.60" cy="257.4" r="1.25" fill="#333"/>
<rect x="179.90" y="304.30" width="13.00" height="74.20" fill="#919dc5"/>
<rect x="196.10" y="294.80" width="13.20" height="83.70" fill="#acd49b"/>
<rect x="213.00" y="348.00" width="13.10" height="30.50" fill="#1c4b8b"/>
<rect x="229.20" y="322.80" width="12.90" height="55.70" fill="#38a83f"/>
<circle cx="187" cy="293" r="1.7" fill="#fff" stroke="#303030" stroke-width="0.88"/>
<circle cx="184" cy="300" r="1.7" fill="#fff" stroke="#303030" stroke-width="0.88"/>
<circle cx="189" cy="300" r="1.7" fill="#fff" stroke="#303030" stroke-width="0.88"/>
<circle cx="181" cy="306" r="1.7" fill="#fff" stroke="#303030" stroke-width="0.88"/>
<circle cx="187" cy="308" r="1.7" fill="#fff" stroke="#303030" stroke-width="0.88"/>
<circle cx="192" cy="309" r="1.7" fill="#fff" stroke="#303030" stroke-width="0.88"/>
<circle cx="181" cy="311" r="1.7" fill="#fff" stroke="#303030" stroke-width="0.88"/>
<circle cx="197" cy="287" r="1.7" fill="#fff" stroke="#303030" stroke-width="0.88"/>
<circle cx="202" cy="287" r="1.7" fill="#fff" stroke="#303030" stroke-width="0.88"/>
<circle cx="208" cy="287" r="1.7" fill="#fff" stroke="#303030" stroke-width="0.88"/>
<circle cx="197" cy="294" r="1.7" fill="#fff" stroke="#303030" stroke-width="0.88"/>
<circle cx="202" cy="299" r="1.7" fill="#fff" stroke="#303030" stroke-width="0.88"/>
<circle cx="208" cy="297" r="1.7" fill="#fff" stroke="#303030" stroke-width="0.88"/>
<circle cx="202" cy="307" r="1.7" fill="#fff" stroke="#303030" stroke-width="0.88"/>
<circle cx="220" cy="325" r="1.7" fill="#fff" stroke="#303030" stroke-width="0.88"/>
<circle cx="220" cy="338" r="1.7" fill="#fff" stroke="#303030" stroke-width="0.88"/>
<circle cx="220" cy="346" r="1.7" fill="#fff" stroke="#303030" stroke-width="0.88"/>
<circle cx="214" cy="365" r="1.7" fill="#fff" stroke="#303030" stroke-width="0.88"/>
<circle cx="224" cy="364" r="1.7" fill="#fff" stroke="#303030" stroke-width="0.88"/>
<circle cx="236" cy="303" r="1.7" fill="#fff" stroke="#303030" stroke-width="0.88"/>
<circle cx="230" cy="318" r="1.7" fill="#fff" stroke="#303030" stroke-width="0.88"/>
<circle cx="241" cy="320" r="1.7" fill="#fff" stroke="#303030" stroke-width="0.88"/>
<circle cx="231" cy="329" r="1.7" fill="#fff" stroke="#303030" stroke-width="0.88"/>
<circle cx="241" cy="329" r="1.7" fill="#fff" stroke="#303030" stroke-width="0.88"/>
<circle cx="235" cy="338" r="1.7" fill="#fff" stroke="#303030" stroke-width="0.88"/>
<line x1="186.50" y1="304.30" x2="186.50" y2="301.50" stroke="#222" stroke-width="1.0"/>
<line x1="184.50" y1="301.50" x2="188.50" y2="301.50" stroke="#222" stroke-width="1.0"/>
<line x1="202.50" y1="294.80" x2="202.50" y2="290.50" stroke="#222" stroke-width="1.0"/>
<line x1="199.90" y1="290.50" x2="205.10" y2="290.50" stroke="#222" stroke-width="1.0"/>
<line x1="219.50" y1="348.00" x2="219.50" y2="339.50" stroke="#222" stroke-width="1.0"/>
<line x1="217.00" y1="339.50" x2="222.00" y2="339.50" stroke="#222" stroke-width="1.0"/>
<line x1="235.50" y1="322.80" x2="235.50" y2="318.50" stroke="#222" stroke-width="1.0"/>
<line x1="232.20" y1="318.50" x2="238.80" y2="318.50" stroke="#222" stroke-width="1.0"/>
<line x1="172.50" y1="259.10" x2="172.50" y2="379.10" stroke="#222" stroke-width="1.35"/>
<line x1="169.10" y1="378.50" x2="249.60" y2="378.50" stroke="#222" stroke-width="1.35"/>
<text x="166.20" y="381.00" font-size="9.1" text-anchor="end" fill="#2b2b2b" class="n"> </text>
<path d="M595,0H776V1409H610L277,1180V1010L595,1237Z" fill="#2b2b2b" transform="translate(161.14,381.00) scale(0.00444,-0.00444)"/>
<line x1="169.10" y1="363.91" x2="172.50" y2="363.91" stroke="#222" stroke-width="1.0"/>
<text x="166.20" y="366.41" font-size="9.1" text-anchor="end" fill="#2b2b2b" class="n">2</text>
<line x1="169.10" y1="349.32" x2="172.50" y2="349.32" stroke="#222" stroke-width="1.0"/>
<text x="166.20" y="351.82" font-size="9.1" text-anchor="end" fill="#2b2b2b" class="n">3</text>
<line x1="169.10" y1="334.74" x2="172.50" y2="334.74" stroke="#222" stroke-width="1.0"/>
<text x="166.20" y="337.24" font-size="9.1" text-anchor="end" fill="#2b2b2b" class="n">4</text>
<line x1="169.10" y1="320.15" x2="172.50" y2="320.15" stroke="#222" stroke-width="1.0"/>
<text x="166.20" y="322.65" font-size="9.1" text-anchor="end" fill="#2b2b2b" class="n">5</text>
<line x1="169.10" y1="305.56" x2="172.50" y2="305.56" stroke="#222" stroke-width="1.0"/>
<text x="166.20" y="308.06" font-size="9.1" text-anchor="end" fill="#2b2b2b" class="n">6</text>
<line x1="169.10" y1="290.98" x2="172.50" y2="290.98" stroke="#222" stroke-width="1.0"/>
<text x="166.20" y="293.48" font-size="9.1" text-anchor="end" fill="#2b2b2b" class="n">7</text>
<line x1="169.10" y1="276.39" x2="172.50" y2="276.39" stroke="#222" stroke-width="1.0"/>
<text x="166.20" y="278.89" font-size="9.1" text-anchor="end" fill="#2b2b2b" class="n">8</text>
<line x1="169.10" y1="261.80" x2="172.50" y2="261.80" stroke="#222" stroke-width="1.0"/>
<text x="166.20" y="264.30" font-size="9.1" text-anchor="end" fill="#2b2b2b" class="n">9</text>
<line x1="194.40" y1="378.50" x2="194.40" y2="381.30" stroke="#222" stroke-width="1.0"/>
<text x="194.40" y="392.60" font-size="9.1" text-anchor="middle" fill="#2b2b2b" class="n">0</text>
<line x1="227.40" y1="378.50" x2="227.40" y2="381.30" stroke="#222" stroke-width="1.0"/>
<text x="227.40" y="392.60" font-size="9.1" text-anchor="middle" fill="#2b2b2b" class="n">36</text>
<line x1="184.20" y1="283.50" x2="204.80" y2="283.50" stroke="#3a3a3a" stroke-width="1.35"/>
<circle cx="192.35" cy="279.6" r="1.25" fill="#333"/>
<circle cx="196.35" cy="279.6" r="1.25" fill="#333"/>
<line x1="186.90" y1="274.50" x2="222.60" y2="274.50" stroke="#3a3a3a" stroke-width="1.35"/>
<circle cx="199.00" cy="270" r="1.25" fill="#333"/>
<circle cx="203.00" cy="270" r="1.25" fill="#333"/>
<circle cx="207.00" cy="270" r="1.25" fill="#333"/>
<circle cx="211.00" cy="270" r="1.25" fill="#333"/>
<line x1="200.80" y1="265.50" x2="236.80" y2="265.50" stroke="#3a3a3a" stroke-width="1.35"/>
<circle cx="212.70" cy="260.8" r="1.25" fill="#333"/>
<circle cx="216.70" cy="260.8" r="1.25" fill="#333"/>
<circle cx="220.70" cy="260.8" r="1.25" fill="#333"/>
<circle cx="224.70" cy="260.8" r="1.25" fill="#333"/>
<line x1="217.10" y1="299.50" x2="237.80" y2="299.50" stroke="#3a3a3a" stroke-width="1.35"/>
<circle cx="226.20" cy="295.5" r="1.25" fill="#333"/>
<circle cx="230.20" cy="295.5" r="1.25" fill="#333"/>
<rect x="312.10" y="305.70" width="13.70" height="72.80" fill="#919dc5"/>
<rect x="327.60" y="301.30" width="14.20" height="77.20" fill="#acd49b"/>
<rect x="345.20" y="316.20" width="13.40" height="62.30" fill="#1c4b8b"/>
<rect x="361.00" y="308.00" width="13.40" height="70.50" fill="#38a83f"/>
<circle cx="319" cy="280" r="1.7" fill="#fff" stroke="#303030" stroke-width="0.88"/>
<circle cx="319" cy="288" r="1.7" fill="#fff" stroke="#303030" stroke-width="0.88"/>
<circle cx="314" cy="302" r="1.7" fill="#fff" stroke="#303030" stroke-width="0.88"/>
<circle cx="324" cy="303" r="1.7" fill="#fff" stroke="#303030" stroke-width="0.88"/>
<circle cx="324" cy="312" r="1.7" fill="#fff" stroke="#303030" stroke-width="0.88"/>
<circle cx="314" cy="315" r="1.7" fill="#fff" stroke="#303030" stroke-width="0.88"/>
<circle cx="324" cy="317" r="1.7" fill="#fff" stroke="#303030" stroke-width="0.88"/>
<circle cx="319" cy="323" r="1.7" fill="#fff" stroke="#303030" stroke-width="0.88"/>
<circle cx="335" cy="283" r="1.7" fill="#fff" stroke="#303030" stroke-width="0.88"/>
<circle cx="335" cy="291" r="1.7" fill="#fff" stroke="#303030" stroke-width="0.88"/>
<circle cx="335" cy="295" r="1.7" fill="#fff" stroke="#303030" stroke-width="0.88"/>
<circle cx="340" cy="304" r="1.7" fill="#fff" stroke="#303030" stroke-width="0.88"/>
<circle cx="329" cy="308" r="1.7" fill="#fff" stroke="#303030" stroke-width="0.88"/>
<circle cx="340" cy="309" r="1.7" fill="#fff" stroke="#303030" stroke-width="0.88"/>
<circle cx="335" cy="314" r="1.7" fill="#fff" stroke="#303030" stroke-width="0.88"/>
<circle cx="352" cy="302" r="1.7" fill="#fff" stroke="#303030" stroke-width="0.88"/>
<circle cx="346" cy="315" r="1.7" fill="#fff" stroke="#303030" stroke-width="0.88"/>
<circle cx="357" cy="315" r="1.7" fill="#fff" stroke="#303030" stroke-width="0.88"/>
<circle cx="357" cy="325" r="1.7" fill="#fff" stroke="#303030" stroke-width="0.88"/>
<circle cx="346" cy="328" r="1.7" fill="#fff" stroke="#303030" stroke-width="0.88"/>
<circle cx="368" cy="280" r="1.7" fill="#fff" stroke="#303030" stroke-width="0.88"/>
<circle cx="368" cy="300" r="1.7" fill="#fff" stroke="#303030" stroke-width="0.88"/>
<circle cx="368" cy="311" r="1.7" fill="#fff" stroke="#303030" stroke-width="0.88"/>
<circle cx="362" cy="315" r="1.7" fill="#fff" stroke="#303030" stroke-width="0.88"/>
<circle cx="373" cy="318" r="1.7" fill="#fff" stroke="#303030" stroke-width="0.88"/>
<circle cx="368" cy="322" r="1.7" fill="#fff" stroke="#303030" stroke-width="0.88"/>
<line x1="318.50" y1="305.70" x2="318.50" y2="299.50" stroke="#222" stroke-width="1.0"/>
<line x1="316.20" y1="299.50" x2="320.80" y2="299.50" stroke="#222" stroke-width="1.0"/>
<line x1="334.50" y1="301.30" x2="334.50" y2="296.50" stroke="#222" stroke-width="1.0"/>
<line x1="331.90" y1="296.50" x2="337.10" y2="296.50" stroke="#222" stroke-width="1.0"/>
<line x1="351.50" y1="316.20" x2="351.50" y2="312.50" stroke="#222" stroke-width="1.0"/>
<line x1="348.90" y1="312.50" x2="354.10" y2="312.50" stroke="#222" stroke-width="1.0"/>
<line x1="367.50" y1="308.00" x2="367.50" y2="301.50" stroke="#222" stroke-width="1.0"/>
<line x1="364.60" y1="301.50" x2="370.40" y2="301.50" stroke="#222" stroke-width="1.0"/>
<line x1="304.80" y1="259.10" x2="304.80" y2="379.10" stroke="#222" stroke-width="1.35"/>
<line x1="301.40" y1="378.50" x2="381.70" y2="378.50" stroke="#222" stroke-width="1.35"/>
<text x="298.50" y="381.00" font-size="9.1" text-anchor="end" fill="#2b2b2b" class="n">−8</text>
<line x1="301.40" y1="361.83" x2="304.80" y2="361.83" stroke="#222" stroke-width="1.0"/>
<text x="298.50" y="364.33" font-size="9.1" text-anchor="end" fill="#2b2b2b" class="n">−7</text>
<line x1="301.40" y1="345.16" x2="304.80" y2="345.16" stroke="#222" stroke-width="1.0"/>
<text x="298.50" y="347.66" font-size="9.1" text-anchor="end" fill="#2b2b2b" class="n">−6</text>
<line x1="301.40" y1="328.49" x2="304.80" y2="328.49" stroke="#222" stroke-width="1.0"/>
<text x="298.50" y="330.99" font-size="9.1" text-anchor="end" fill="#2b2b2b" class="n">−5</text>
<line x1="301.40" y1="311.81" x2="304.80" y2="311.81" stroke="#222" stroke-width="1.0"/>
<text x="298.50" y="314.31" font-size="9.1" text-anchor="end" fill="#2b2b2b" class="n">−4</text>
<line x1="301.40" y1="295.14" x2="304.80" y2="295.14" stroke="#222" stroke-width="1.0"/>
<text x="298.50" y="297.64" font-size="9.1" text-anchor="end" fill="#2b2b2b" class="n">−3</text>
<line x1="301.40" y1="278.47" x2="304.80" y2="278.47" stroke="#222" stroke-width="1.0"/>
<text x="298.50" y="280.97" font-size="9.1" text-anchor="end" fill="#2b2b2b" class="n">−2</text>
<line x1="301.40" y1="261.80" x2="304.80" y2="261.80" stroke="#222" stroke-width="1.0"/>
<text x="298.50" y="264.30" font-size="9.1" text-anchor="end" fill="#2b2b2b" class="n">− </text>
<path d="M595,0H776V1409H610L277,1180V1010L595,1237Z" fill="#2b2b2b" transform="translate(293.44,264.30) scale(0.00444,-0.00444)"/>
<line x1="326.80" y1="378.50" x2="326.80" y2="381.30" stroke="#222" stroke-width="1.0"/>
<text x="326.80" y="392.60" font-size="9.1" text-anchor="middle" fill="#2b2b2b" class="n">0</text>
<line x1="359.80" y1="378.50" x2="359.80" y2="381.30" stroke="#222" stroke-width="1.0"/>
<text x="359.80" y="392.60" font-size="9.1" text-anchor="middle" fill="#2b2b2b" class="n">36</text>
<rect x="439.30" y="317.50" width="13.10" height="61.00" fill="#919dc5"/>
<rect x="454.90" y="314.70" width="13.50" height="63.80" fill="#acd49b"/>
<rect x="472.10" y="315.10" width="13.30" height="63.40" fill="#1c4b8b"/>
<rect x="488.30" y="311.70" width="13.50" height="66.80" fill="#38a83f"/>
<circle cx="446" cy="293" r="1.7" fill="#fff" stroke="#303030" stroke-width="0.88"/>
<circle cx="446" cy="306" r="1.7" fill="#fff" stroke="#303030" stroke-width="0.88"/>
<circle cx="440" cy="318" r="1.7" fill="#fff" stroke="#303030" stroke-width="0.88"/>
<circle cx="451" cy="317" r="1.7" fill="#fff" stroke="#303030" stroke-width="0.88"/>
<circle cx="440" cy="325" r="1.7" fill="#fff" stroke="#303030" stroke-width="0.88"/>
<circle cx="451" cy="322" r="1.7" fill="#fff" stroke="#303030" stroke-width="0.88"/>
<circle cx="440" cy="330" r="1.7" fill="#fff" stroke="#303030" stroke-width="0.88"/>
<circle cx="451" cy="328" r="1.7" fill="#fff" stroke="#303030" stroke-width="0.88"/>
<circle cx="462" cy="294" r="1.7" fill="#fff" stroke="#303030" stroke-width="0.88"/>
<circle cx="456" cy="304" r="1.7" fill="#fff" stroke="#303030" stroke-width="0.88"/>
<circle cx="462" cy="306" r="1.7" fill="#fff" stroke="#303030" stroke-width="0.88"/>
<circle cx="467" cy="305" r="1.7" fill="#fff" stroke="#303030" stroke-width="0.88"/>
<circle cx="462" cy="310" r="1.7" fill="#fff" stroke="#303030" stroke-width="0.88"/>
<circle cx="462" cy="318" r="1.7" fill="#fff" stroke="#303030" stroke-width="0.88"/>
<circle cx="462" cy="359" r="1.7" fill="#fff" stroke="#303030" stroke-width="0.88"/>
<circle cx="479" cy="305" r="1.7" fill="#fff" stroke="#303030" stroke-width="0.88"/>
<circle cx="479" cy="312" r="1.7" fill="#fff" stroke="#303030" stroke-width="0.88"/>
<circle cx="479" cy="316" r="1.7" fill="#fff" stroke="#303030" stroke-width="0.88"/>
<circle cx="479" cy="320" r="1.7" fill="#fff" stroke="#303030" stroke-width="0.88"/>
<circle cx="479" cy="323" r="1.7" fill="#fff" stroke="#303030" stroke-width="0.88"/>
<circle cx="495" cy="288" r="1.7" fill="#fff" stroke="#303030" stroke-width="0.88"/>
<circle cx="495" cy="299" r="1.7" fill="#fff" stroke="#303030" stroke-width="0.88"/>
<circle cx="500" cy="314" r="1.7" fill="#fff" stroke="#303030" stroke-width="0.88"/>
<circle cx="490" cy="317" r="1.7" fill="#fff" stroke="#303030" stroke-width="0.88"/>
<circle cx="490" cy="325" r="1.7" fill="#fff" stroke="#303030" stroke-width="0.88"/>
<circle cx="500" cy="325" r="1.7" fill="#fff" stroke="#303030" stroke-width="0.88"/>
<line x1="446.50" y1="317.50" x2="446.50" y2="313.50" stroke="#222" stroke-width="1.0"/>
<line x1="443.60" y1="313.50" x2="449.40" y2="313.50" stroke="#222" stroke-width="1.0"/>
<line x1="461.50" y1="314.70" x2="461.50" y2="306.50" stroke="#222" stroke-width="1.0"/>
<line x1="459.00" y1="306.50" x2="464.00" y2="306.50" stroke="#222" stroke-width="1.0"/>
<line x1="478.50" y1="315.10" x2="478.50" y2="311.50" stroke="#222" stroke-width="1.0"/>
<line x1="475.70" y1="311.50" x2="481.30" y2="311.50" stroke="#222" stroke-width="1.0"/>
<line x1="494.50" y1="311.70" x2="494.50" y2="304.50" stroke="#222" stroke-width="1.0"/>
<line x1="491.60" y1="304.50" x2="497.40" y2="304.50" stroke="#222" stroke-width="1.0"/>
<line x1="431.80" y1="259.10" x2="431.80" y2="379.10" stroke="#222" stroke-width="1.35"/>
<line x1="428.40" y1="378.50" x2="508.90" y2="378.50" stroke="#222" stroke-width="1.35"/>
<text x="425.50" y="381.00" font-size="9.1" text-anchor="end" fill="#2b2b2b" class="n">−8</text>
<line x1="428.40" y1="361.83" x2="431.80" y2="361.83" stroke="#222" stroke-width="1.0"/>
<text x="425.50" y="364.33" font-size="9.1" text-anchor="end" fill="#2b2b2b" class="n">−7</text>
<line x1="428.40" y1="345.16" x2="431.80" y2="345.16" stroke="#222" stroke-width="1.0"/>
<text x="425.50" y="347.66" font-size="9.1" text-anchor="end" fill="#2b2b2b" class="n">−6</text>
<line x1="428.40" y1="328.49" x2="431.80" y2="328.49" stroke="#222" stroke-width="1.0"/>
<text x="425.50" y="330.99" font-size="9.1" text-anchor="end" fill="#2b2b2b" class="n">−5</text>
<line x1="428.40" y1="311.81" x2="431.80" y2="311.81" stroke="#222" stroke-width="1.0"/>
<text x="425.50" y="314.31" font-size="9.1" text-anchor="end" fill="#2b2b2b" class="n">−4</text>
<line x1="428.40" y1="295.14" x2="431.80" y2="295.14" stroke="#222" stroke-width="1.0"/>
<text x="425.50" y="297.64" font-size="9.1" text-anchor="end" fill="#2b2b2b" class="n">−3</text>
<line x1="428.40" y1="278.47" x2="431.80" y2="278.47" stroke="#222" stroke-width="1.0"/>
<text x="425.50" y="280.97" font-size="9.1" text-anchor="end" fill="#2b2b2b" class="n">−2</text>
<line x1="428.40" y1="261.80" x2="431.80" y2="261.80" stroke="#222" stroke-width="1.0"/>
<text x="425.50" y="264.30" font-size="9.1" text-anchor="end" fill="#2b2b2b" class="n">− </text>
<path d="M595,0H776V1409H610L277,1180V1010L595,1237Z" fill="#2b2b2b" transform="translate(420.44,264.30) scale(0.00444,-0.00444)"/>
<line x1="453.90" y1="378.50" x2="453.90" y2="381.30" stroke="#222" stroke-width="1.0"/>
<text x="453.90" y="392.60" font-size="9.1" text-anchor="middle" fill="#2b2b2b" class="n">0</text>
<line x1="487.00" y1="378.50" x2="487.00" y2="381.30" stroke="#222" stroke-width="1.0"/>
<text x="487.00" y="392.60" font-size="9.1" text-anchor="middle" fill="#2b2b2b" class="n">36</text>
<circle cx="90.70" cy="98.8" r="1.25" fill="#333"/>
<circle cx="94.70" cy="98.8" r="1.25" fill="#333"/>
<circle cx="98.70" cy="98.8" r="1.25" fill="#333"/>
<circle cx="102.70" cy="98.8" r="1.25" fill="#333"/>
<text x="80.6" y="45" font-size="9.8" fill="#2b2b2b" text-anchor="middle" textLength="47.5" lengthAdjust="spacingAndGlyphs"><tspan font-style="italic">Fgl1</tspan><tspan> (liver)</tspan></text>
<text x="211.4" y="46" font-size="10.2" fill="#2b2b2b" text-anchor="middle" textLength="65.8" lengthAdjust="spacingAndGlyphs"><tspan>Red blood cell</tspan></text>
<text x="211.5" y="54.8" font-size="10.2" fill="#2b2b2b" text-anchor="middle" textLength="25.4" lengthAdjust="spacingAndGlyphs"><tspan>count</tspan></text>
<text x="343.2" y="45.5" font-size="9.8" fill="#2b2b2b" text-anchor="middle" textLength="56.5" lengthAdjust="spacingAndGlyphs"><tspan>Hemoglobin</tspan></text>
<text x="470.5" y="45.5" font-size="9.8" fill="#2b2b2b" text-anchor="middle" textLength="44" lengthAdjust="spacingAndGlyphs"><tspan font-style="italic">Erfe</tspan><tspan> bone</tspan></text>
<text x="470.6" y="54.4" font-size="9.8" fill="#2b2b2b" text-anchor="middle" textLength="33.7" lengthAdjust="spacingAndGlyphs"><tspan>marrow</tspan></text>
<text x="80.25" y="250.75" font-size="9.8" fill="#2b2b2b" text-anchor="middle" textLength="50" lengthAdjust="spacingAndGlyphs"><tspan font-style="italic">Erfe</tspan><tspan> spleen</tspan></text>
<text x="211.4" y="250.75" font-size="9.8" fill="#2b2b2b" text-anchor="middle" textLength="54.1" lengthAdjust="spacingAndGlyphs"><tspan font-style="italic">Hamp</tspan><tspan> (liver)</tspan></text>
<text x="343.75" y="250.75" font-size="9.8" fill="#2b2b2b" text-anchor="middle" textLength="41.3" lengthAdjust="spacingAndGlyphs"><tspan font-style="italic">Id1</tspan><tspan> (liver)</tspan></text>
<text x="470" y="250.75" font-size="9.8" fill="#2b2b2b" text-anchor="middle" textLength="57.5" lengthAdjust="spacingAndGlyphs"><tspan font-style="italic">Smad7</tspan><tspan> (liver)</tspan></text>
<text x="79.90" y="211.30" font-size="9.7" text-anchor="middle" fill="#2b2b2b" textLength="84.3" lengthAdjust="spacingAndGlyphs">Hours after phlebotomy</text>
<text x="211.00" y="211.30" font-size="9.7" text-anchor="middle" fill="#2b2b2b" textLength="84.3" lengthAdjust="spacingAndGlyphs">Hours after phlebotomy</text>
<text x="343.50" y="211.30" font-size="9.7" text-anchor="middle" fill="#2b2b2b" textLength="84.3" lengthAdjust="spacingAndGlyphs">Hours after phlebotomy</text>
<text x="470.20" y="211.30" font-size="9.7" text-anchor="middle" fill="#2b2b2b" textLength="84.3" lengthAdjust="spacingAndGlyphs">Hours after phlebotomy</text>
<text x="80.20" y="406.30" font-size="9.7" text-anchor="middle" fill="#2b2b2b" textLength="84.3" lengthAdjust="spacingAndGlyphs">Hours after phlebotomy</text>
<text x="211.20" y="406.30" font-size="9.7" text-anchor="middle" fill="#2b2b2b" textLength="84.3" lengthAdjust="spacingAndGlyphs">Hours after phlebotomy</text>
<text x="343.50" y="406.30" font-size="9.7" text-anchor="middle" fill="#2b2b2b" textLength="84.3" lengthAdjust="spacingAndGlyphs">Hours after phlebotomy</text>
<text x="470.20" y="406.30" font-size="9.7" text-anchor="middle" fill="#2b2b2b" textLength="84.3" lengthAdjust="spacingAndGlyphs">Hours after phlebotomy</text>
<g transform="translate(25,131.6) rotate(-90)">
<line x1="0.2" y1="-2.6" x2="1.2" y2="-2.6" stroke="#333" stroke-width="0.9"/>
<text x="1.6" y="0" font-size="10" fill="#2b2b2b" textLength="13.9" lengthAdjust="spacingAndGlyphs">ΔCt</text>
</g>
<g transform="translate(410.8,131.4) rotate(-90)">
<line x1="0.2" y1="-2.6" x2="1.2" y2="-2.6" stroke="#333" stroke-width="0.9"/>
<text x="1.6" y="0" font-size="10" fill="#2b2b2b" textLength="13.9" lengthAdjust="spacingAndGlyphs">ΔCt</text>
</g>
<g transform="translate(16,326.4) rotate(-90)">
<line x1="0.2" y1="-2.6" x2="1.2" y2="-2.6" stroke="#333" stroke-width="0.9"/>
<text x="1.6" y="0" font-size="10" fill="#2b2b2b" textLength="13.9" lengthAdjust="spacingAndGlyphs">ΔCt</text>
</g>
<g transform="translate(156,326.4) rotate(-90)">
<line x1="0.2" y1="-2.6" x2="1.2" y2="-2.6" stroke="#333" stroke-width="0.9"/>
<text x="1.6" y="0" font-size="10" fill="#2b2b2b" textLength="13.9" lengthAdjust="spacingAndGlyphs">ΔCt</text>
</g>
<g transform="translate(283.5,326.4) rotate(-90)">
<line x1="0.2" y1="-2.6" x2="1.2" y2="-2.6" stroke="#333" stroke-width="0.9"/>
<text x="1.6" y="0" font-size="10" fill="#2b2b2b" textLength="13.9" lengthAdjust="spacingAndGlyphs">ΔCt</text>
</g>
<g transform="translate(410.8,326.4) rotate(-90)">
<line x1="0.2" y1="-2.6" x2="1.2" y2="-2.6" stroke="#333" stroke-width="0.9"/>
<text x="1.6" y="0" font-size="10" fill="#2b2b2b" textLength="13.9" lengthAdjust="spacingAndGlyphs">ΔCt</text>
</g>
<text transform="translate(150.5,123.5) rotate(-90)" x="0" y="0" font-size="9.2" fill="#2b2b2b" text-anchor="middle" textLength="64" lengthAdjust="spacingAndGlyphs">RBC (10<tspan font-size="5.8" dy="-3.4">6</tspan><tspan dy="3.4"> cells/μl)</tspan></text>
<text transform="translate(282.9,123.3) rotate(-90)" x="0" y="0" font-size="10.1" fill="#2b2b2b" text-anchor="middle" textLength="32.8" lengthAdjust="spacingAndGlyphs">Hb (g/dL)</text>
<rect x="0.5" y="0.5" width="519" height="415" fill="none" stroke="#444" stroke-width="1"/>
</svg></body></html>
